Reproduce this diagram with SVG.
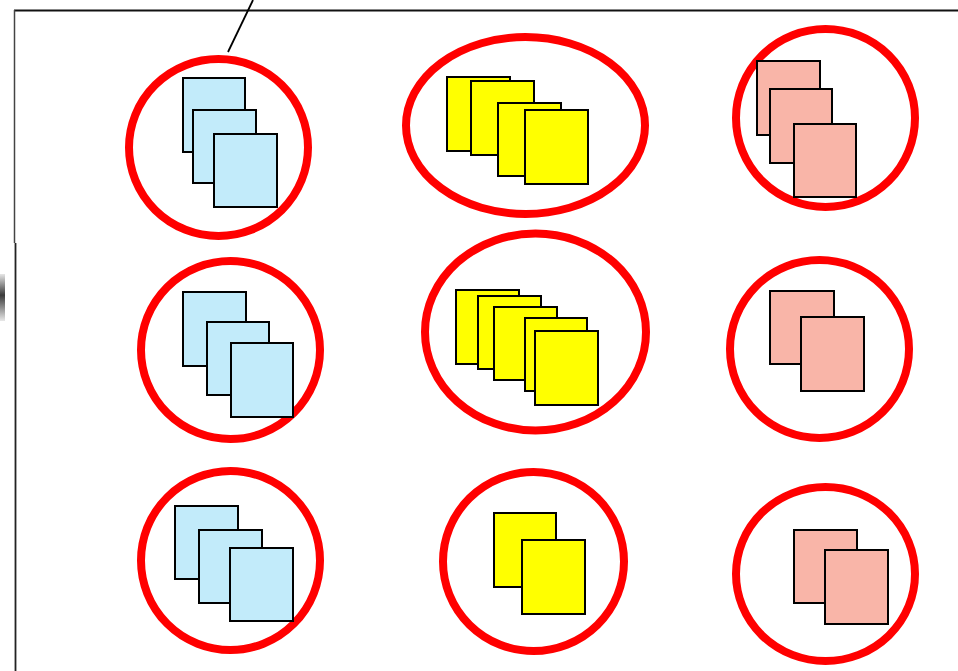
<svg xmlns="http://www.w3.org/2000/svg" width="958" height="671" viewBox="0 0 958 671">
<style>
.ring{fill:none;stroke:#FF0000;stroke-width:8}
.b{fill:#C2EBFA;stroke:#000;stroke-width:2}
.y{fill:#FFFF00;stroke:#000;stroke-width:2}
.p{fill:#F9B5A8;stroke:#000;stroke-width:2}
.frame{stroke:#111;stroke-width:1.8;fill:none}
</style>
<defs>
<linearGradient id="blob" x1="0" y1="0" x2="0" y2="1">
<stop offset="0" stop-color="#e6e6e6"/>
<stop offset="0.45" stop-color="#3a3a3a"/>
<stop offset="1" stop-color="#e8e8e8"/>
</linearGradient>
</defs>
<rect width="958" height="671" fill="#fff"/>
<g id="frame">
<line class="frame" x1="14" y1="10.5" x2="958" y2="10.5"/>
<line x1="14.5" y1="10" x2="14.5" y2="243" stroke="#444" stroke-width="1.5"/>
<line x1="15.5" y1="243" x2="15.5" y2="671" stroke="#222" stroke-width="1.8"/>
<rect x="0" y="274" width="5" height="47" fill="url(#blob)"/>
</g>
<g id="connectors">
<line x1="228" y1="52" x2="253" y2="0" stroke="#000" stroke-width="1.8"/>
</g>
<g id="n1">
<ellipse class="ring" cx="218.5" cy="147.5" rx="89.5" ry="88.5"/>
<rect class="b" x="183" y="78" width="62" height="74"/>
<rect class="b" x="193" y="110" width="63" height="73"/>
<rect class="b" x="214" y="134" width="63" height="73"/>
</g>
<g id="n2">
<ellipse class="ring" cx="525.5" cy="125.5" rx="119.5" ry="88.5"/>
<rect class="y" x="447" y="77" width="63" height="74"/>
<rect class="y" x="471" y="81" width="63" height="74"/>
<rect class="y" x="498" y="103" width="63" height="73"/>
<rect class="y" x="525" y="110" width="63" height="74"/>
</g>
<g id="n3">
<ellipse class="ring" cx="825.5" cy="118" rx="89.5" ry="89"/>
<rect class="p" x="757" y="61" width="63" height="74"/>
<rect class="p" x="770" y="89" width="62" height="74"/>
<rect class="p" x="794" y="124" width="62" height="73"/>
</g>
<g id="n4">
<ellipse class="ring" cx="230.5" cy="350" rx="89.5" ry="89"/>
<rect class="b" x="183" y="292" width="63" height="74"/>
<rect class="b" x="207" y="322" width="62" height="73"/>
<rect class="b" x="231" y="343" width="62" height="74"/>
</g>
<g id="n5">
<ellipse class="ring" cx="535.5" cy="332" rx="110.5" ry="98.5"/>
<rect class="y" x="456" y="290" width="63" height="74"/>
<rect class="y" x="478" y="296" width="63" height="73"/>
<rect class="y" x="494" y="307" width="63" height="73"/>
<rect class="y" x="525" y="318" width="62" height="73"/>
<rect class="y" x="535" y="331" width="63" height="74"/>
</g>
<g id="n6">
<ellipse class="ring" cx="819.5" cy="349" rx="89.5" ry="89"/>
<rect class="p" x="770" y="291" width="64" height="73"/>
<rect class="p" x="801" y="317" width="63" height="74"/>
</g>
<g id="n7">
<ellipse class="ring" cx="230.5" cy="560.5" rx="89.5" ry="89.5"/>
<rect class="b" x="175" y="506" width="63" height="73"/>
<rect class="b" x="199" y="530" width="63" height="73"/>
<rect class="b" x="230" y="548" width="63" height="73"/>
</g>
<g id="n8">
<ellipse class="ring" cx="533.5" cy="561.5" rx="90.5" ry="89.5"/>
<rect class="y" x="494" y="513" width="62" height="74"/>
<rect class="y" x="522" y="540" width="63" height="74"/>
</g>
<g id="n9">
<ellipse class="ring" cx="825.5" cy="574" rx="89.5" ry="87"/>
<rect class="p" x="794" y="530" width="63" height="73"/>
<rect class="p" x="825" y="550" width="63" height="74"/>
</g>
</svg>
